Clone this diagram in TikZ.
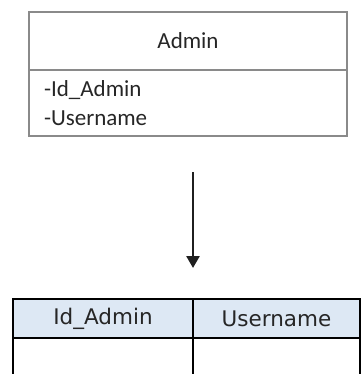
\documentclass[tikz,border=0pt]{standalone}
\usepackage{fontspec}
\setmainfont{Carlito}
\newfontfamily\tabfont{DejaVu Sans}
\usetikzlibrary{arrows.meta}
\definecolor{umlgray}{HTML}{8A8A8A}
\definecolor{headblue}{HTML}{DDE8F4}
\definecolor{txtgray}{HTML}{262626}
\begin{document}
\begin{tikzpicture}[x=1pt,y=-1pt,
  umlpart/.style={draw=umlgray, line width=1.8pt, rectangle, inner sep=0pt, outer sep=0pt,
    minimum width=318pt, text=txtgray, font=\fontsize{23}{29}\selectfont},
  cellbox/.style={draw=black, line width=1.8pt, rectangle, inner sep=0pt, outer sep=0pt,
    text=txtgray, font=\tabfont\fontsize{21.5}{25}\selectfont},
  headcell/.style={cellbox, fill=headblue, minimum height=39pt},
  bodycell/.style={cellbox, minimum height=62pt},
  flowarrow/.style={draw=black!88, line width=2.6pt, -{Triangle[width=13pt,length=12pt]}}
]
\useasboundingbox (0,0) rectangle (361,374);
\clip (0,0) rectangle (361,374);
% UML class box
\node[umlpart, minimum height=58pt] (title) at (188,41) {Admin};
\node[umlpart, minimum height=66pt, anchor=north, text width=288pt, inner xsep=15pt, align=left]
  (attrs) at (title.south) {-Id\_Admin\\-Username};
% arrow
\coordinate (arrS) at (193,172);
\coordinate (arrE) at (193,268);
\draw[flowarrow] (arrS) -- (arrE);
% table
\node[headcell, minimum width=180pt] (h1) at (103,318.5) {Id\_Admin};
\node[headcell, minimum width=167pt] (h2) at (276.5,318.5) {Username};
\node[bodycell, minimum width=180pt, anchor=north] (c1) at (h1.south) {};
\node[bodycell, minimum width=167pt, anchor=north] (c2) at (h2.south) {};
\end{tikzpicture}
\end{document}
